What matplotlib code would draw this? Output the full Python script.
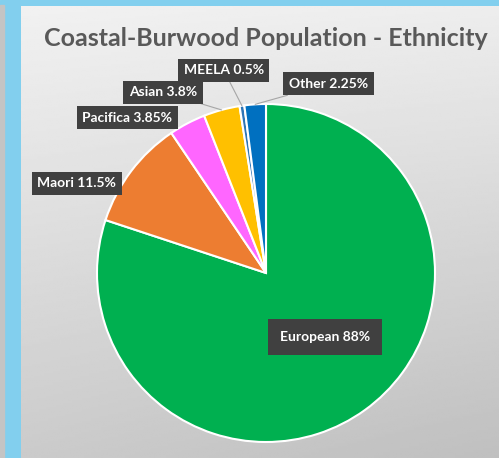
import numpy as np
import matplotlib
matplotlib.use('Agg')
import matplotlib.pyplot as plt
from matplotlib.patches import Rectangle

# ── Data ──────────────────────────────────────────────────────────────────────
categories = ['European', 'Maori', 'Pacifica', 'Asian', 'MEELA', 'Other']
values     = [88, 11.5, 3.85, 3.8, 0.5, 2.25]
colors     = ['#00B050', '#ED7D31', '#FF66FF', '#FFC000', '#2E75B6', '#0070C0']

# label centres in pie units (radius = 1), and whether a leader line is drawn
label_pos = {
    'European': (0.35, -0.38),
    'Maori':    (-1.12, 0.53),
    'Pacifica': (-0.82, 0.92),
    'Asian':    (-0.61, 1.07),
    'MEELA':    (-0.25, 1.20),
    'Other':    (0.37, 1.12),
}
leaders = ['Asian', 'MEELA', 'Other']

TITLE = 'Coastal-Burwood Population - Ethnicity'
FONT = ['Lato', 'DejaVu Sans']

W, H = 499, 458
CX, CY, R = 266, 273, 169   # pie centre / radius in pixels (from top)


def main():
    plt.rcParams['font.family'] = FONT
    fig = plt.figure(figsize=(W / 100, H / 100), dpi=100)

    # ── background: blue frame + grey gradient panel ─────────────────────────
    bg = fig.add_axes([0, 0, 1, 1])
    bg.set_xlim(0, W); bg.set_ylim(H, 0); bg.axis('off')
    bg.add_patch(Rectangle((0, 0), W, H, color='#82CFEE', zorder=0))
    bg.add_patch(Rectangle((0, 5), 4, H, color='#C4C4C4', zorder=1))
    yy, xx = np.mgrid[0:1:200j, 0:1:200j]
    grad = 0.945 - 0.15 * yy - 0.03 * xx * yy - 0.015 * xx
    bg.imshow(grad, cmap='gray', vmin=0, vmax=1, extent=[21, W, H, 6],
              aspect='auto', zorder=2, interpolation='bilinear')

    fig.text(CX / W, 1 - 38 / H, TITLE, ha='center', va='center',
             fontsize=18, fontweight='bold', color='#595959')

    # ── pie ───────────────────────────────────────────────────────────────────
    ax = fig.add_axes([(CX - R) / W, (H - CY - R) / H, 2 * R / W, 2 * R / H])
    wedges, _ = ax.pie(values, colors=colors, startangle=90, counterclock=False,
                       radius=1, wedgeprops=dict(edgecolor='white', linewidth=1.5))
    ax.set_xlim(-1, 1); ax.set_ylim(-1, 1)
    ax.axis('off')

    for w, cat, v in zip(wedges, categories, values):
        lx, ly = label_pos[cat]
        pad = 0.85 if cat == 'European' else 0.4
        box = dict(boxstyle=f'square,pad={pad}', fc='#404040', ec='none')
        txt = f'{cat} {v:g}%'
        if cat in leaders:
            mid = np.deg2rad((w.theta1 + w.theta2) / 2)
            ax.annotate(txt, xy=(np.cos(mid), np.sin(mid)), xytext=(lx, ly),
                        ha='center', va='center', fontsize=10, fontweight='bold',
                        color='white', bbox=box, annotation_clip=False,
                        arrowprops=dict(arrowstyle='-', color='#A6A6A6', lw=0.8,
                                        shrinkA=0, shrinkB=0))
        else:
            ax.text(lx, ly, txt, ha='center', va='center', fontsize=10,
                    fontweight='bold', color='white', bbox=box, clip_on=False)

    fig.savefig('out.png', dpi=100)
    plt.close(fig)


if __name__ == '__main__':
    main()
